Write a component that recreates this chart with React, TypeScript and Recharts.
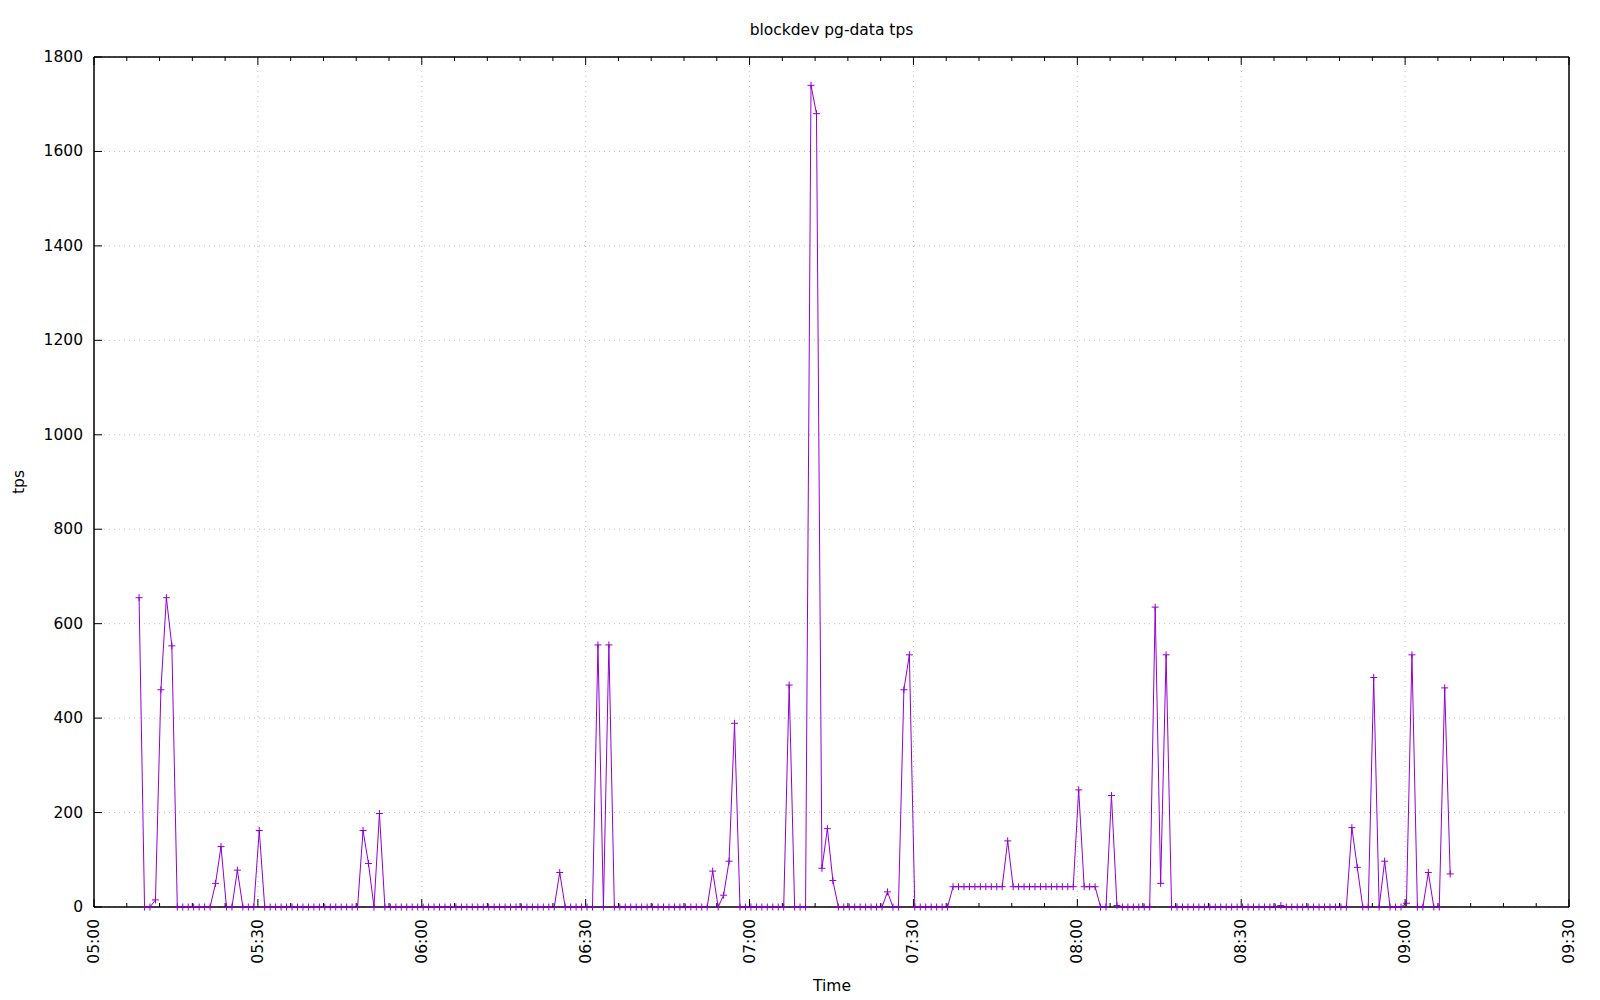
import { CartesianGrid, Line, LineChart, ReferenceArea, ReferenceLine, XAxis, YAxis } from 'recharts';

// first sample at 05:08:15, then one sample per minute (x is minutes after 05:00)
const START_MIN = 8.25;
const STEP_MIN = 1;

const tps = [
  655, 0, 0, 15, 460, 655, 553, 0, 0, 0, 0, 0, 0, 0, 50, 128, 0, 0, 78, 0,
  0, 0, 162, 0, 0, 0, 0, 0, 0, 0, 0, 0, 0, 0, 0, 0, 0, 0, 0, 0,
  0, 162, 92, 0, 198, 0, 0, 0, 0, 0, 0, 0, 0, 0, 0, 0, 0, 0, 0, 0,
  0, 0, 0, 0, 0, 0, 0, 0, 0, 0, 0, 0, 0, 0, 0, 0, 0, 73, 0, 0,
  0, 0, 0, 0, 555, 0, 555, 0, 0, 0, 0, 0, 0, 0, 0, 0, 0, 0, 0, 0,
  0, 0, 0, 0, 0, 76, 0, 25, 97, 389, 0, 0, 0, 0, 0, 0, 0, 0, 0, 470,
  0, 0, 0, 1740, 1680, 82, 166, 56, 0, 0, 0, 0, 0, 0, 0, 0, 0, 32, 0, 0,
  460, 534, 0, 0, 0, 0, 0, 0, 0, 43, 43, 43, 43, 43, 43, 43, 43, 43, 43, 140,
  43, 43, 43, 43, 43, 43, 43, 43, 43, 43, 43, 43, 248, 43, 43, 43, 0, 0, 236, 3,
  0, 0, 0, 0, 0, 0, 635, 50, 534, 0, 0, 0, 0, 0, 0, 0, 0, 0, 0, 0,
  0, 0, 0, 0, 0, 0, 0, 0, 0, 3, 0, 0, 0, 0, 0, 0, 0, 0, 0, 0,
  0, 0, 168, 84, 0, 0, 486, 0, 97, 0, 0, 0, 8, 534, 0, 0, 73, 0, 0, 464,
  70,
];

const timeLabels = ['05:00', '05:30', '06:00', '06:30', '07:00', '07:30', '08:00', '08:30', '09:00', '09:30'];
const yTicks = [0, 200, 400, 600, 800, 1000, 1200, 1400, 1600, 1800];
const MINOR_STEP = 6;

const toMin = (label: string) => {
  const [h, m] = label.split(':').map(Number);
  return h * 60 + m - 300;
};
const majorMins = timeLabels.map(toMin);
const xMax = majorMins[majorMins.length - 1];
const yMax = yTicks[yTicks.length - 1];
const xTicks: number[] = [];
for (let m = 0; m <= xMax; m += MINOR_STEP) xTicks.push(m);

const data = tps.map((v, i) => ({ t: START_MIN + i * STEP_MIN, v }));

const FONT = 'DejaVu Sans';
const FS = 15.5;
const PURPLE = '#9400d3';

function BottomTick(props: any) {
  const { x, y, payload } = props;
  const idx = majorMins.indexOf(payload.value);
  const major = idx >= 0;
  return (
    <g>
      <line x1={x} x2={x} y1={y} y2={y - (major ? 8 : 4)} stroke="#000" />
      {major && (
        <text
          x={x}
          y={y + 12}
          transform={`rotate(-90 ${x} ${y + 12})`}
          textAnchor="end"
          dominantBaseline="central"
          fontFamily={FONT}
          fontSize={FS}
          fill="#000"
        >
          {timeLabels[idx]}
        </text>
      )}
    </g>
  );
}

function TopTick(props: any) {
  const { x, y, payload } = props;
  const major = majorMins.includes(payload.value);
  return <line x1={x} x2={x} y1={y} y2={y + (major ? 8 : 4)} stroke="#000" />;
}

function LeftTick(props: any) {
  const { x, y, payload } = props;
  return (
    <g>
      <line x1={x} x2={x + 8} y1={y} y2={y} stroke="#000" />
      <text x={x - 11} y={y} textAnchor="end" dominantBaseline="central" fontFamily={FONT} fontSize={FS} fill="#000">
        {payload.value}
      </text>
    </g>
  );
}

function RightTick(props: any) {
  const { x, y } = props;
  return <line x1={x} x2={x - 8} y1={y} y2={y} stroke="#000" />;
}

function PlusDot(props: any) {
  const { cx, cy, index } = props;
  if (cx == null || cy == null) return <g key={index} />;
  return <path key={index} d={`M${cx - 3.5},${cy}h7M${cx},${cy - 3.5}v7`} stroke={PURPLE} strokeWidth={1} fill="none" />;
}

export default function App() {
  return (
    <div style={{ position: 'absolute', left: 0, top: 0, width: 1600, height: 1000, background: '#fff', fontFamily: FONT }}>
      <div style={{ position: 'absolute', left: 631.5, width: 400, top: 20, lineHeight: '20px', textAlign: 'center', fontSize: FS }}>
        blockdev pg-data tps
      </div>
      <div style={{ position: 'absolute', left: 732, width: 200, top: 976, lineHeight: '20px', textAlign: 'center', fontSize: FS }}>
        Time
      </div>
      <div
        style={{
          position: 'absolute',
          left: -81,
          width: 200,
          top: 472,
          lineHeight: '20px',
          textAlign: 'center',
          fontSize: FS,
          transform: 'rotate(-90deg)',
        }}
      >
        tps
      </div>
      <LineChart width={1600} height={1000} data={data} margin={{ top: 56, right: 30, bottom: 0, left: 0 }}>
        <CartesianGrid
          xAxisId="bottom"
          yAxisId="left"
          vertical={false}
          stroke="#c0c0c0"
          strokeDasharray="1 4"
        />
        <XAxis
          xAxisId="bottom"
          dataKey="t"
          type="number"
          domain={[0, xMax]}
          ticks={xTicks}
          interval={0}
          height={93}
          tickSize={0}
          tickMargin={0}
          tickLine={false}
          axisLine={{ stroke: '#000' }}
          tick={<BottomTick />}
        />
        <XAxis
          xAxisId="top"
          orientation="top"
          dataKey="t"
          type="number"
          domain={[0, xMax]}
          ticks={xTicks}
          interval={0}
          height={1}
          tickSize={0}
          tickMargin={0}
          tickLine={false}
          axisLine={{ stroke: '#000' }}
          tick={<TopTick />}
        />
        <YAxis
          yAxisId="left"
          type="number"
          domain={[0, yMax]}
          ticks={yTicks}
          interval={0}
          width={94}
          tickSize={0}
          tickMargin={0}
          tickLine={false}
          axisLine={{ stroke: '#000' }}
          tick={<LeftTick />}
        />
        <YAxis
          yAxisId="right"
          orientation="right"
          type="number"
          domain={[0, yMax]}
          ticks={yTicks}
          interval={0}
          width={1}
          tickSize={0}
          tickMargin={0}
          tickLine={false}
          axisLine={{ stroke: '#000' }}
          tick={<RightTick />}
        />
        {majorMins.slice(1, -1).map((m) => (
          <ReferenceLine key={m} x={m} xAxisId="bottom" yAxisId="left" stroke="#c0c0c0" strokeDasharray="1 4" />
        ))}
        <ReferenceArea
          xAxisId="bottom"
          yAxisId="left"
          x1={0}
          x2={xMax}
          y1={0}
          y2={yMax}
          fill="none"
          fillOpacity={0}
          stroke="#000"
          strokeOpacity={1}
        />
        <Line
          xAxisId="bottom"
          yAxisId="left"
          type="linear"
          dataKey="v"
          stroke={PURPLE}
          strokeWidth={1}
          dot={PlusDot}
          activeDot={false}
          isAnimationActive={false}
        />
      </LineChart>
    </div>
  );
}
